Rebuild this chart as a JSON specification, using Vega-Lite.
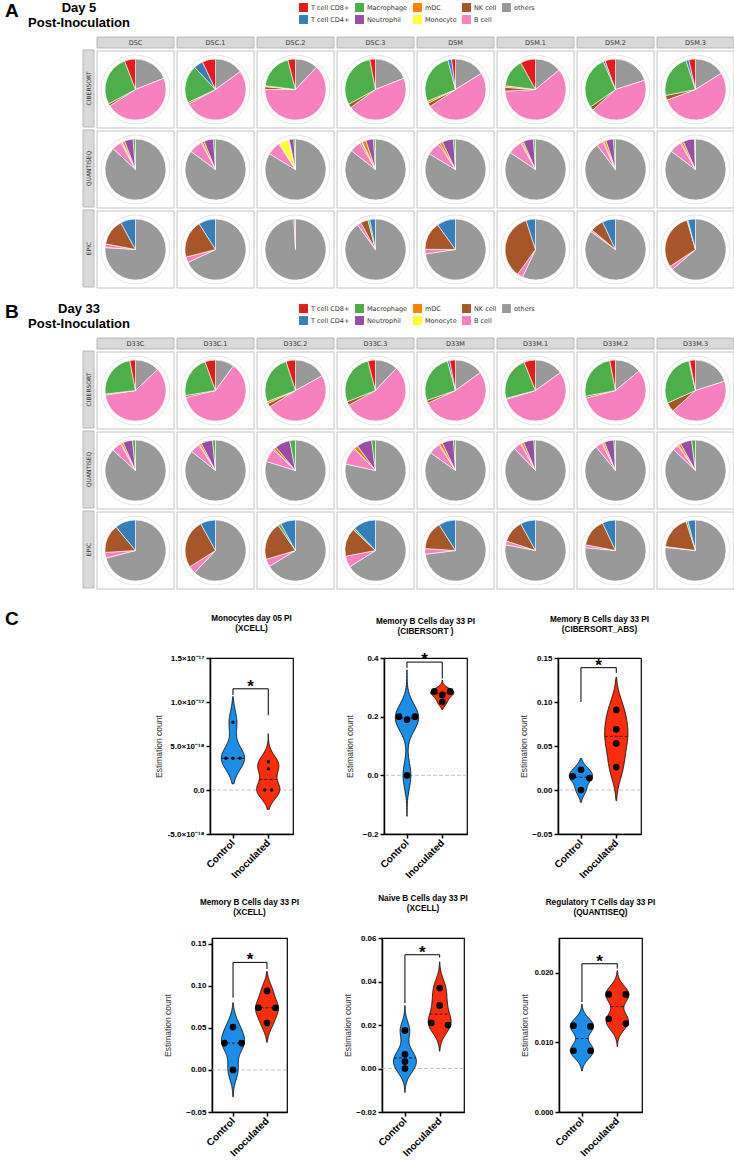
{
"$schema":"https://vega.github.io/schema/vega-lite/v6.json",
"padding":{"left":5,"top":1,"right":0,"bottom":0},
"background":"white",
"config":{"view":{"stroke":null},"font":"Liberation Sans",
"axis":{"domainColor":"black","domainWidth":1.5,"tickColor":"black","tickWidth":1.5,"tickSize":4,"labelColor":"black","labelFontWeight":"bold","labelFontSize":8,"labelFont":"Liberation Sans","titleFont":"Liberation Sans","titleFontWeight":"normal","titleFontSize":8.5,"titleColor":"#333333","grid":false,"titlePadding":6,"labelPadding":2,"labelOverlap":false,"labelSeparation":0,"labelBound":false},
"title":{"font":"Liberation Sans","fontSize":8.2,"fontWeight":"bold","color":"black","offset":21,"lineHeight":10,"anchor":"middle","frame":"group"}},
"datasets":{
"pA":[
{"m":"CIBERSORT","s":"D5C","c":"others","v":0.19},{"m":"CIBERSORT","s":"D5C","c":"B cell","v":0.47},{"m":"CIBERSORT","s":"D5C","c":"NK cell","v":0.012},{"m":"CIBERSORT","s":"D5C","c":"Macrophage","v":0.27},{"m":"CIBERSORT","s":"D5C","c":"T cell CD8+","v":0.058},
{"m":"CIBERSORT","s":"D5C.1","c":"others","v":0.15},{"m":"CIBERSORT","s":"D5C.1","c":"B cell","v":0.52},{"m":"CIBERSORT","s":"D5C.1","c":"NK cell","v":0.008},{"m":"CIBERSORT","s":"D5C.1","c":"Macrophage","v":0.2},{"m":"CIBERSORT","s":"D5C.1","c":"T cell CD4+","v":0.05},{"m":"CIBERSORT","s":"D5C.1","c":"T cell CD8+","v":0.07},
{"m":"CIBERSORT","s":"D5C.2","c":"others","v":0.12},{"m":"CIBERSORT","s":"D5C.2","c":"B cell","v":0.63},{"m":"CIBERSORT","s":"D5C.2","c":"NK cell","v":0.015},{"m":"CIBERSORT","s":"D5C.2","c":"mDC","v":0.005},{"m":"CIBERSORT","s":"D5C.2","c":"Macrophage","v":0.19},{"m":"CIBERSORT","s":"D5C.2","c":"T cell CD8+","v":0.04},
{"m":"CIBERSORT","s":"D5C.3","c":"others","v":0.19},{"m":"CIBERSORT","s":"D5C.3","c":"B cell","v":0.46},{"m":"CIBERSORT","s":"D5C.3","c":"NK cell","v":0.02},{"m":"CIBERSORT","s":"D5C.3","c":"Macrophage","v":0.3},{"m":"CIBERSORT","s":"D5C.3","c":"T cell CD8+","v":0.03},
{"m":"CIBERSORT","s":"D5M","c":"others","v":0.16},{"m":"CIBERSORT","s":"D5M","c":"B cell","v":0.49},{"m":"CIBERSORT","s":"D5M","c":"NK cell","v":0.02},{"m":"CIBERSORT","s":"D5M","c":"mDC","v":0.01},{"m":"CIBERSORT","s":"D5M","c":"Macrophage","v":0.27},{"m":"CIBERSORT","s":"D5M","c":"T cell CD4+","v":0.02},{"m":"CIBERSORT","s":"D5M","c":"T cell CD8+","v":0.02},
{"m":"CIBERSORT","s":"D5M.1","c":"others","v":0.14},{"m":"CIBERSORT","s":"D5M.1","c":"B cell","v":0.6},{"m":"CIBERSORT","s":"D5M.1","c":"NK cell","v":0.02},{"m":"CIBERSORT","s":"D5M.1","c":"mDC","v":0.008},{"m":"CIBERSORT","s":"D5M.1","c":"Macrophage","v":0.15},{"m":"CIBERSORT","s":"D5M.1","c":"T cell CD8+","v":0.08},
{"m":"CIBERSORT","s":"D5M.2","c":"others","v":0.2},{"m":"CIBERSORT","s":"D5M.2","c":"B cell","v":0.43},{"m":"CIBERSORT","s":"D5M.2","c":"NK cell","v":0.02},{"m":"CIBERSORT","s":"D5M.2","c":"Macrophage","v":0.28},{"m":"CIBERSORT","s":"D5M.2","c":"T cell CD4+","v":0.01},{"m":"CIBERSORT","s":"D5M.2","c":"T cell CD8+","v":0.055},
{"m":"CIBERSORT","s":"D5M.3","c":"others","v":0.16},{"m":"CIBERSORT","s":"D5M.3","c":"B cell","v":0.53},{"m":"CIBERSORT","s":"D5M.3","c":"NK cell","v":0.025},{"m":"CIBERSORT","s":"D5M.3","c":"Macrophage","v":0.23},{"m":"CIBERSORT","s":"D5M.3","c":"T cell CD4+","v":0.015},{"m":"CIBERSORT","s":"D5M.3","c":"T cell CD8+","v":0.035},
{"m":"QUANTISEQ","s":"D5C","c":"others","v":0.85},{"m":"QUANTISEQ","s":"D5C","c":"B cell","v":0.05},{"m":"QUANTISEQ","s":"D5C","c":"NK cell","v":0.005},{"m":"QUANTISEQ","s":"D5C","c":"Monocyte","v":0.004},{"m":"QUANTISEQ","s":"D5C","c":"mDC","v":0.012},{"m":"QUANTISEQ","s":"D5C","c":"Neutrophil","v":0.045},{"m":"QUANTISEQ","s":"D5C","c":"Macrophage","v":0.012},
{"m":"QUANTISEQ","s":"D5C.1","c":"others","v":0.84},{"m":"QUANTISEQ","s":"D5C.1","c":"B cell","v":0.07},{"m":"QUANTISEQ","s":"D5C.1","c":"NK cell","v":0.005},{"m":"QUANTISEQ","s":"D5C.1","c":"mDC","v":0.012},{"m":"QUANTISEQ","s":"D5C.1","c":"Neutrophil","v":0.05},{"m":"QUANTISEQ","s":"D5C.1","c":"Macrophage","v":0.01},
{"m":"QUANTISEQ","s":"D5C.2","c":"others","v":0.83},{"m":"QUANTISEQ","s":"D5C.2","c":"B cell","v":0.07},{"m":"QUANTISEQ","s":"D5C.2","c":"NK cell","v":0.005},{"m":"QUANTISEQ","s":"D5C.2","c":"Monocyte","v":0.05},{"m":"QUANTISEQ","s":"D5C.2","c":"mDC","v":0.004},{"m":"QUANTISEQ","s":"D5C.2","c":"Neutrophil","v":0.025},{"m":"QUANTISEQ","s":"D5C.2","c":"Macrophage","v":0.008},
{"m":"QUANTISEQ","s":"D5C.3","c":"others","v":0.84},{"m":"QUANTISEQ","s":"D5C.3","c":"B cell","v":0.06},{"m":"QUANTISEQ","s":"D5C.3","c":"NK cell","v":0.008},{"m":"QUANTISEQ","s":"D5C.3","c":"Monocyte","v":0.004},{"m":"QUANTISEQ","s":"D5C.3","c":"mDC","v":0.02},{"m":"QUANTISEQ","s":"D5C.3","c":"Neutrophil","v":0.04},{"m":"QUANTISEQ","s":"D5C.3","c":"Macrophage","v":0.01},
{"m":"QUANTISEQ","s":"D5M","c":"others","v":0.83},{"m":"QUANTISEQ","s":"D5M","c":"B cell","v":0.07},{"m":"QUANTISEQ","s":"D5M","c":"NK cell","v":0.008},{"m":"QUANTISEQ","s":"D5M","c":"mDC","v":0.015},{"m":"QUANTISEQ","s":"D5M","c":"Neutrophil","v":0.06},{"m":"QUANTISEQ","s":"D5M","c":"Macrophage","v":0.01},
{"m":"QUANTISEQ","s":"D5M.1","c":"others","v":0.84},{"m":"QUANTISEQ","s":"D5M.1","c":"B cell","v":0.075},{"m":"QUANTISEQ","s":"D5M.1","c":"NK cell","v":0.005},{"m":"QUANTISEQ","s":"D5M.1","c":"mDC","v":0.01},{"m":"QUANTISEQ","s":"D5M.1","c":"Neutrophil","v":0.055},{"m":"QUANTISEQ","s":"D5M.1","c":"Macrophage","v":0.01},
{"m":"QUANTISEQ","s":"D5M.2","c":"others","v":0.89},{"m":"QUANTISEQ","s":"D5M.2","c":"B cell","v":0.035},{"m":"QUANTISEQ","s":"D5M.2","c":"NK cell","v":0.005},{"m":"QUANTISEQ","s":"D5M.2","c":"mDC","v":0.012},{"m":"QUANTISEQ","s":"D5M.2","c":"Neutrophil","v":0.04},{"m":"QUANTISEQ","s":"D5M.2","c":"Macrophage","v":0.01},
{"m":"QUANTISEQ","s":"D5M.3","c":"others","v":0.85},{"m":"QUANTISEQ","s":"D5M.3","c":"B cell","v":0.065},{"m":"QUANTISEQ","s":"D5M.3","c":"NK cell","v":0.005},{"m":"QUANTISEQ","s":"D5M.3","c":"mDC","v":0.012},{"m":"QUANTISEQ","s":"D5M.3","c":"Neutrophil","v":0.06},{"m":"QUANTISEQ","s":"D5M.3","c":"Macrophage","v":0.005},
{"m":"EPIC","s":"D5C","c":"others","v":0.76},{"m":"EPIC","s":"D5C","c":"B cell","v":0.02},{"m":"EPIC","s":"D5C","c":"NK cell","v":0.14},{"m":"EPIC","s":"D5C","c":"T cell CD4+","v":0.08},
{"m":"EPIC","s":"D5C.1","c":"others","v":0.68},{"m":"EPIC","s":"D5C.1","c":"B cell","v":0.03},{"m":"EPIC","s":"D5C.1","c":"NK cell","v":0.2},{"m":"EPIC","s":"D5C.1","c":"T cell CD4+","v":0.09},
{"m":"EPIC","s":"D5C.2","c":"others","v":0.99},{"m":"EPIC","s":"D5C.2","c":"B cell","v":0.008},
{"m":"EPIC","s":"D5C.3","c":"others","v":0.9},{"m":"EPIC","s":"D5C.3","c":"B cell","v":0.02},{"m":"EPIC","s":"D5C.3","c":"NK cell","v":0.04},{"m":"EPIC","s":"D5C.3","c":"Macrophage","v":0.01},{"m":"EPIC","s":"D5C.3","c":"T cell CD4+","v":0.03},
{"m":"EPIC","s":"D5M","c":"others","v":0.73},{"m":"EPIC","s":"D5M","c":"B cell","v":0.025},{"m":"EPIC","s":"D5M","c":"NK cell","v":0.15},{"m":"EPIC","s":"D5M","c":"T cell CD4+","v":0.1},
{"m":"EPIC","s":"D5M.1","c":"others","v":0.57},{"m":"EPIC","s":"D5M.1","c":"B cell","v":0.03},{"m":"EPIC","s":"D5M.1","c":"NK cell","v":0.35},{"m":"EPIC","s":"D5M.1","c":"T cell CD4+","v":0.05},
{"m":"EPIC","s":"D5M.2","c":"others","v":0.85},{"m":"EPIC","s":"D5M.2","c":"B cell","v":0.01},{"m":"EPIC","s":"D5M.2","c":"NK cell","v":0.07},{"m":"EPIC","s":"D5M.2","c":"T cell CD4+","v":0.07},
{"m":"EPIC","s":"D5M.3","c":"others","v":0.64},{"m":"EPIC","s":"D5M.3","c":"B cell","v":0.02},{"m":"EPIC","s":"D5M.3","c":"NK cell","v":0.3},{"m":"EPIC","s":"D5M.3","c":"Macrophage","v":0.005},{"m":"EPIC","s":"D5M.3","c":"T cell CD4+","v":0.04}
],
"pB":[
{"m":"CIBERSORT","s":"D33C","c":"others","v":0.13},{"m":"CIBERSORT","s":"D33C","c":"B cell","v":0.6},{"m":"CIBERSORT","s":"D33C","c":"NK cell","v":0.005},{"m":"CIBERSORT","s":"D33C","c":"Macrophage","v":0.24},{"m":"CIBERSORT","s":"D33C","c":"T cell CD8+","v":0.03},
{"m":"CIBERSORT","s":"D33C.1","c":"others","v":0.1},{"m":"CIBERSORT","s":"D33C.1","c":"B cell","v":0.61},{"m":"CIBERSORT","s":"D33C.1","c":"NK cell","v":0.01},{"m":"CIBERSORT","s":"D33C.1","c":"Macrophage","v":0.22},{"m":"CIBERSORT","s":"D33C.1","c":"T cell CD8+","v":0.055},
{"m":"CIBERSORT","s":"D33C.2","c":"others","v":0.17},{"m":"CIBERSORT","s":"D33C.2","c":"B cell","v":0.49},{"m":"CIBERSORT","s":"D33C.2","c":"NK cell","v":0.02},{"m":"CIBERSORT","s":"D33C.2","c":"mDC","v":0.01},{"m":"CIBERSORT","s":"D33C.2","c":"Macrophage","v":0.26},{"m":"CIBERSORT","s":"D33C.2","c":"T cell CD8+","v":0.05},
{"m":"CIBERSORT","s":"D33C.3","c":"others","v":0.12},{"m":"CIBERSORT","s":"D33C.3","c":"B cell","v":0.55},{"m":"CIBERSORT","s":"D33C.3","c":"NK cell","v":0.02},{"m":"CIBERSORT","s":"D33C.3","c":"Macrophage","v":0.27},{"m":"CIBERSORT","s":"D33C.3","c":"T cell CD8+","v":0.04},
{"m":"CIBERSORT","s":"D33M","c":"others","v":0.15},{"m":"CIBERSORT","s":"D33M","c":"B cell","v":0.53},{"m":"CIBERSORT","s":"D33M","c":"NK cell","v":0.015},{"m":"CIBERSORT","s":"D33M","c":"Macrophage","v":0.26},{"m":"CIBERSORT","s":"D33M","c":"T cell CD4+","v":0.012},{"m":"CIBERSORT","s":"D33M","c":"T cell CD8+","v":0.03},
{"m":"CIBERSORT","s":"D33M.1","c":"others","v":0.15},{"m":"CIBERSORT","s":"D33M.1","c":"B cell","v":0.55},{"m":"CIBERSORT","s":"D33M.1","c":"NK cell","v":0.005},{"m":"CIBERSORT","s":"D33M.1","c":"Macrophage","v":0.23},{"m":"CIBERSORT","s":"D33M.1","c":"T cell CD8+","v":0.06},
{"m":"CIBERSORT","s":"D33M.2","c":"others","v":0.14},{"m":"CIBERSORT","s":"D33M.2","c":"B cell","v":0.57},{"m":"CIBERSORT","s":"D33M.2","c":"NK cell","v":0.01},{"m":"CIBERSORT","s":"D33M.2","c":"Macrophage","v":0.25},{"m":"CIBERSORT","s":"D33M.2","c":"T cell CD8+","v":0.03},
{"m":"CIBERSORT","s":"D33M.3","c":"others","v":0.2},{"m":"CIBERSORT","s":"D33M.3","c":"B cell","v":0.43},{"m":"CIBERSORT","s":"D33M.3","c":"NK cell","v":0.05},{"m":"CIBERSORT","s":"D33M.3","c":"Macrophage","v":0.28},{"m":"CIBERSORT","s":"D33M.3","c":"T cell CD4+","v":0.005},{"m":"CIBERSORT","s":"D33M.3","c":"T cell CD8+","v":0.03},
{"m":"QUANTISEQ","s":"D33C","c":"others","v":0.85},{"m":"QUANTISEQ","s":"D33C","c":"B cell","v":0.05},{"m":"QUANTISEQ","s":"D33C","c":"NK cell","v":0.005},{"m":"QUANTISEQ","s":"D33C","c":"mDC","v":0.01},{"m":"QUANTISEQ","s":"D33C","c":"Neutrophil","v":0.05},{"m":"QUANTISEQ","s":"D33C","c":"Macrophage","v":0.015},
{"m":"QUANTISEQ","s":"D33C.1","c":"others","v":0.84},{"m":"QUANTISEQ","s":"D33C.1","c":"B cell","v":0.05},{"m":"QUANTISEQ","s":"D33C.1","c":"NK cell","v":0.005},{"m":"QUANTISEQ","s":"D33C.1","c":"mDC","v":0.01},{"m":"QUANTISEQ","s":"D33C.1","c":"Neutrophil","v":0.06},{"m":"QUANTISEQ","s":"D33C.1","c":"Macrophage","v":0.015},
{"m":"QUANTISEQ","s":"D33C.2","c":"others","v":0.79},{"m":"QUANTISEQ","s":"D33C.2","c":"B cell","v":0.07},{"m":"QUANTISEQ","s":"D33C.2","c":"NK cell","v":0.005},{"m":"QUANTISEQ","s":"D33C.2","c":"mDC","v":0.015},{"m":"QUANTISEQ","s":"D33C.2","c":"Neutrophil","v":0.08},{"m":"QUANTISEQ","s":"D33C.2","c":"Macrophage","v":0.03},
{"m":"QUANTISEQ","s":"D33C.3","c":"others","v":0.78},{"m":"QUANTISEQ","s":"D33C.3","c":"B cell","v":0.09},{"m":"QUANTISEQ","s":"D33C.3","c":"NK cell","v":0.005},{"m":"QUANTISEQ","s":"D33C.3","c":"mDC","v":0.02},{"m":"QUANTISEQ","s":"D33C.3","c":"Neutrophil","v":0.08},{"m":"QUANTISEQ","s":"D33C.3","c":"Macrophage","v":0.02},
{"m":"QUANTISEQ","s":"D33M","c":"others","v":0.84},{"m":"QUANTISEQ","s":"D33M","c":"B cell","v":0.06},{"m":"QUANTISEQ","s":"D33M","c":"NK cell","v":0.005},{"m":"QUANTISEQ","s":"D33M","c":"mDC","v":0.015},{"m":"QUANTISEQ","s":"D33M","c":"Neutrophil","v":0.06},{"m":"QUANTISEQ","s":"D33M","c":"Macrophage","v":0.01},
{"m":"QUANTISEQ","s":"D33M.1","c":"others","v":0.87},{"m":"QUANTISEQ","s":"D33M.1","c":"B cell","v":0.04},{"m":"QUANTISEQ","s":"D33M.1","c":"NK cell","v":0.005},{"m":"QUANTISEQ","s":"D33M.1","c":"mDC","v":0.012},{"m":"QUANTISEQ","s":"D33M.1","c":"Neutrophil","v":0.055},{"m":"QUANTISEQ","s":"D33M.1","c":"Macrophage","v":0.008},
{"m":"QUANTISEQ","s":"D33M.2","c":"others","v":0.88},{"m":"QUANTISEQ","s":"D33M.2","c":"B cell","v":0.035},{"m":"QUANTISEQ","s":"D33M.2","c":"NK cell","v":0.005},{"m":"QUANTISEQ","s":"D33M.2","c":"mDC","v":0.01},{"m":"QUANTISEQ","s":"D33M.2","c":"Neutrophil","v":0.05},{"m":"QUANTISEQ","s":"D33M.2","c":"Macrophage","v":0.008},
{"m":"QUANTISEQ","s":"D33M.3","c":"others","v":0.86},{"m":"QUANTISEQ","s":"D33M.3","c":"B cell","v":0.03},{"m":"QUANTISEQ","s":"D33M.3","c":"NK cell","v":0.005},{"m":"QUANTISEQ","s":"D33M.3","c":"mDC","v":0.012},{"m":"QUANTISEQ","s":"D33M.3","c":"Neutrophil","v":0.06},{"m":"QUANTISEQ","s":"D33M.3","c":"Macrophage","v":0.02},
{"m":"EPIC","s":"D33C","c":"others","v":0.71},{"m":"EPIC","s":"D33C","c":"B cell","v":0.03},{"m":"EPIC","s":"D33C","c":"NK cell","v":0.15},{"m":"EPIC","s":"D33C","c":"T cell CD4+","v":0.11},
{"m":"EPIC","s":"D33C.1","c":"others","v":0.62},{"m":"EPIC","s":"D33C.1","c":"B cell","v":0.04},{"m":"EPIC","s":"D33C.1","c":"NK cell","v":0.26},{"m":"EPIC","s":"D33C.1","c":"T cell CD4+","v":0.08},
{"m":"EPIC","s":"D33C.2","c":"others","v":0.66},{"m":"EPIC","s":"D33C.2","c":"B cell","v":0.04},{"m":"EPIC","s":"D33C.2","c":"NK cell","v":0.2},{"m":"EPIC","s":"D33C.2","c":"Macrophage","v":0.015},{"m":"EPIC","s":"D33C.2","c":"T cell CD4+","v":0.08},
{"m":"EPIC","s":"D33C.3","c":"others","v":0.66},{"m":"EPIC","s":"D33C.3","c":"B cell","v":0.06},{"m":"EPIC","s":"D33C.3","c":"NK cell","v":0.15},{"m":"EPIC","s":"D33C.3","c":"Macrophage","v":0.01},{"m":"EPIC","s":"D33C.3","c":"T cell CD4+","v":0.12},
{"m":"EPIC","s":"D33M","c":"others","v":0.73},{"m":"EPIC","s":"D33M","c":"B cell","v":0.03},{"m":"EPIC","s":"D33M","c":"NK cell","v":0.15},{"m":"EPIC","s":"D33M","c":"T cell CD4+","v":0.09},
{"m":"EPIC","s":"D33M.1","c":"others","v":0.78},{"m":"EPIC","s":"D33M.1","c":"B cell","v":0.02},{"m":"EPIC","s":"D33M.1","c":"NK cell","v":0.12},{"m":"EPIC","s":"D33M.1","c":"T cell CD4+","v":0.08},
{"m":"EPIC","s":"D33M.2","c":"others","v":0.765},{"m":"EPIC","s":"D33M.2","c":"B cell","v":0.015},{"m":"EPIC","s":"D33M.2","c":"NK cell","v":0.15},{"m":"EPIC","s":"D33M.2","c":"T cell CD4+","v":0.07},
{"m":"EPIC","s":"D33M.3","c":"others","v":0.77},{"m":"EPIC","s":"D33M.3","c":"B cell","v":0.005},{"m":"EPIC","s":"D33M.3","c":"NK cell","v":0.18},{"m":"EPIC","s":"D33M.3","c":"Macrophage","v":0.01},{"m":"EPIC","s":"D33M.3","c":"T cell CD4+","v":0.04}
],
"v1":[{"g":"Control","v":7.7e-18},{"g":"Control","v":3.6e-18},{"g":"Control","v":3.6e-18},{"g":"Control","v":3.6e-18},{"g":"Inoculated","v":3.2e-18},{"g":"Inoculated","v":2.4e-18},{"g":"Inoculated","v":0},{"g":"Inoculated","v":0}],
"v2":[{"g":"Control","v":0.2},{"g":"Control","v":0.2},{"g":"Control","v":0.19},{"g":"Control","v":0.0},{"g":"Inoculated","v":0.286},{"g":"Inoculated","v":0.286},{"g":"Inoculated","v":0.274},{"g":"Inoculated","v":0.25}],
"v3":[{"g":"Control","v":0.023},{"g":"Control","v":0.0155},{"g":"Control","v":0.0135},{"g":"Control","v":0.0},{"g":"Inoculated","v":0.091},{"g":"Inoculated","v":0.069},{"g":"Inoculated","v":0.053},{"g":"Inoculated","v":0.026}],
"v4":[{"g":"Control","v":0.051},{"g":"Control","v":0.032},{"g":"Control","v":0.032},{"g":"Control","v":0.0},{"g":"Inoculated","v":0.094},{"g":"Inoculated","v":0.074},{"g":"Inoculated","v":0.074},{"g":"Inoculated","v":0.056}],
"v5":[{"g":"Control","v":0.0175},{"g":"Control","v":0.0065},{"g":"Control","v":0.0032},{"g":"Control","v":0.0},{"g":"Inoculated","v":0.037},{"g":"Inoculated","v":0.029},{"g":"Inoculated","v":0.021},{"g":"Inoculated","v":0.02}],
"v6":[{"g":"Control","v":0.0124},{"g":"Control","v":0.0123},{"g":"Control","v":0.0088},{"g":"Control","v":0.0088},{"g":"Inoculated","v":0.0169},{"g":"Inoculated","v":0.0169},{"g":"Inoculated","v":0.0134},{"g":"Inoculated","v":0.0127}]
},
"resolve":{"scale":{"color":"independent","theta":"independent"},"legend":{"color":"independent"}},
"spacing":20,
"vconcat":[
{"resolve":{"scale":{"color":"independent","theta":"independent"},"legend":{"color":"independent"}},"spacing":13,
"vconcat":[
{"resolve":{"scale":{"color":"independent","theta":"independent"},"legend":{"color":"independent"}},"spacing":6,
"vconcat":[
{"resolve":{"scale":{"color":"independent"},"legend":{"color":"independent"}},"spacing":8,"bounds":"flush","hconcat":[
{"width":14,"height":1,"data":{"values":[]},"mark":"rect","title":{"text":"A","orient":"bottom","fontSize":19,"anchor":"start","offset":0,"lineHeight":19}},
{"width":104,"height":1,"data":{"values":[]},"mark":"rect","title":{"text":["Day 5","Post-Inoculation"],"orient":"bottom","fontSize":13,"lineHeight":14.5,"offset":0}},
{"width":155,"height":1,"data":{"values":[]},"mark":"rect","encoding":{"color":{"field":"c","type":"nominal","scale":{"domain":["T cell CD8+","Macrophage","mDC","NK cell","others","T cell CD4+","Neutrophil","Monocyte","B cell"],"range":["#E41A1C","#4DAF4A","#FF7F00","#A65628","#999999","#377EB8","#984EA3","#FFFF33","#F781BF"]},"legend":{"orient":"right","offset":3,"title":null,"direction":"horizontal","columns":5,"symbolType":"square","symbolSize":80,"symbolStrokeWidth":0,"symbolOpacity":1,"labelFontSize":6.5,"labelFont":"DejaVu Sans","labelFontWeight":"normal","labelColor":"#333333","columnPadding":5,"rowPadding":3,"labelOffset":3,"padding":2}}}}
]},
{"resolve":{"scale":{"color":"independent","theta":"independent"},"legend":{"color":"independent"}},"spacing":1,"hconcat":[
{"width":76,"height":1,"data":{"values":[]},"mark":"rect"},
{"spacing":1,"vconcat":[
{"width":11,"height":11,"data":{"values":[]},"mark":"rect"},
{"width":11,"height":237,"data":{"name":"pA"},"transform":[{"aggregate":[{"op":"count","as":"n"}],"groupby":["m"]}],
"layer":[
{"mark":{"type":"rect","fill":"#d9d9d9","stroke":"#ababab","strokeWidth":0.8},"encoding":{"y":{"field":"m","type":"nominal","scale":{"domain":["CIBERSORT","QUANTISEQ","EPIC"],"paddingInner":0.0375,"paddingOuter":0},"axis":null}}},
{"mark":{"type":"text","fontSize":6,"font":"DejaVu Sans","color":"#333333","angle":270},"encoding":{"y":{"field":"m","type":"nominal"},"text":{"field":"m"}}}
]}
]},
{"resolve":{"scale":{"color":"independent","theta":"independent"},"legend":{"color":"independent"}},"spacing":1,"vconcat":[
{"width":637,"height":11,"data":{"name":"pA"},"transform":[{"aggregate":[{"op":"count","as":"n"}],"groupby":["s"]}],
"layer":[
{"mark":{"type":"rect","fill":"#d9d9d9","stroke":"#ababab","strokeWidth":0.8},"encoding":{"x":{"field":"s","type":"nominal","scale":{"paddingInner":0.0375,"paddingOuter":0},"axis":null}}},
{"mark":{"type":"text","fontSize":6.5,"font":"DejaVu Sans","color":"#333333"},"encoding":{"x":{"field":"s","type":"nominal"},"text":{"field":"s"}}}
]},
{"width":637,"height":237,"data":{"name":"pA"},
"layer":[
{"transform":[{"aggregate":[{"op":"count","as":"n"}],"groupby":["m","s"]}],"mark":{"type":"rect","fill":"white","stroke":"#c4c4c4","strokeWidth":1},"encoding":{"x":{"field":"s","type":"nominal","scale":{"paddingInner":0.0375,"paddingOuter":0},"axis":null},"y":{"field":"m","type":"nominal","scale":{"domain":["CIBERSORT","QUANTISEQ","EPIC"],"paddingInner":0.0375,"paddingOuter":0},"axis":null}}},
{"transform":[{"aggregate":[{"op":"count","as":"n"}],"groupby":["m","s"]}],"mark":{"type":"point","shape":"circle","size":4761,"filled":true,"fill":"white","stroke":"#e6e6e6","strokeWidth":1,"opacity":1},"encoding":{"x":{"field":"s","type":"nominal"},"y":{"field":"m","type":"nominal"}}},
{"transform":[{"calculate":"indexof(['others','B cell','NK cell','Monocyte','mDC','Neutrophil','Macrophage','T cell CD4+','T cell CD8+'], datum.c)","as":"o"},{"stack":"v","groupby":["m","s"],"sort":[{"field":"o","order":"ascending"}],"offset":"normalize","as":["t0","t1"]}],
"mark":{"type":"arc","radius":30.5,"stroke":"white","strokeWidth":0.6},
"encoding":{"x":{"field":"s","type":"nominal","bandPosition":0.5},"y":{"field":"m","type":"nominal","bandPosition":0.5},
"theta":{"field":"t0","type":"quantitative","stack":null,"scale":{"type":"linear","domain":[0,1],"range":[0,6.283185307179586]}},"theta2":{"field":"t1"},
"color":{"field":"c","type":"nominal","scale":{"domain":["T cell CD8+","Macrophage","mDC","NK cell","others","T cell CD4+","Neutrophil","Monocyte","B cell"],"range":["#E41A1C","#4DAF4A","#FF7F00","#A65628","#999999","#377EB8","#984EA3","#FFFF33","#F781BF"]},"legend":null}}}
]}
]}
]}
]},
{"resolve":{"scale":{"color":"independent","theta":"independent"},"legend":{"color":"independent"}},"spacing":6,
"vconcat":[
{"resolve":{"scale":{"color":"independent"},"legend":{"color":"independent"}},"spacing":8,"bounds":"flush","hconcat":[
{"width":14,"height":1,"data":{"values":[]},"mark":"rect","title":{"text":"B","orient":"bottom","fontSize":19,"anchor":"start","offset":0,"lineHeight":19}},
{"width":104,"height":1,"data":{"values":[]},"mark":"rect","title":{"text":["Day 33","Post-Inoculation"],"orient":"bottom","fontSize":13,"lineHeight":14.5,"offset":0}},
{"width":155,"height":1,"data":{"values":[]},"mark":"rect","encoding":{"color":{"field":"c","type":"nominal","scale":{"domain":["T cell CD8+","Macrophage","mDC","NK cell","others","T cell CD4+","Neutrophil","Monocyte","B cell"],"range":["#E41A1C","#4DAF4A","#FF7F00","#A65628","#999999","#377EB8","#984EA3","#FFFF33","#F781BF"]},"legend":{"orient":"right","offset":3,"title":null,"direction":"horizontal","columns":5,"symbolType":"square","symbolSize":80,"symbolStrokeWidth":0,"symbolOpacity":1,"labelFontSize":6.5,"labelFont":"DejaVu Sans","labelFontWeight":"normal","labelColor":"#333333","columnPadding":5,"rowPadding":3,"labelOffset":3,"padding":2}}}}
]},
{"resolve":{"scale":{"color":"independent","theta":"independent"},"legend":{"color":"independent"}},"spacing":1,"hconcat":[
{"width":76,"height":1,"data":{"values":[]},"mark":"rect"},
{"spacing":1,"vconcat":[
{"width":11,"height":11,"data":{"values":[]},"mark":"rect"},
{"width":11,"height":237,"data":{"name":"pB"},"transform":[{"aggregate":[{"op":"count","as":"n"}],"groupby":["m"]}],
"layer":[
{"mark":{"type":"rect","fill":"#d9d9d9","stroke":"#ababab","strokeWidth":0.8},"encoding":{"y":{"field":"m","type":"nominal","scale":{"domain":["CIBERSORT","QUANTISEQ","EPIC"],"paddingInner":0.0375,"paddingOuter":0},"axis":null}}},
{"mark":{"type":"text","fontSize":6,"font":"DejaVu Sans","color":"#333333","angle":270},"encoding":{"y":{"field":"m","type":"nominal"},"text":{"field":"m"}}}
]}
]},
{"resolve":{"scale":{"color":"independent","theta":"independent"},"legend":{"color":"independent"}},"spacing":1,"vconcat":[
{"width":637,"height":11,"data":{"name":"pB"},"transform":[{"aggregate":[{"op":"count","as":"n"}],"groupby":["s"]}],
"layer":[
{"mark":{"type":"rect","fill":"#d9d9d9","stroke":"#ababab","strokeWidth":0.8},"encoding":{"x":{"field":"s","type":"nominal","scale":{"paddingInner":0.0375,"paddingOuter":0},"axis":null}}},
{"mark":{"type":"text","fontSize":6.5,"font":"DejaVu Sans","color":"#333333"},"encoding":{"x":{"field":"s","type":"nominal"},"text":{"field":"s"}}}
]},
{"width":637,"height":237,"data":{"name":"pB"},
"layer":[
{"transform":[{"aggregate":[{"op":"count","as":"n"}],"groupby":["m","s"]}],"mark":{"type":"rect","fill":"white","stroke":"#c4c4c4","strokeWidth":1},"encoding":{"x":{"field":"s","type":"nominal","scale":{"paddingInner":0.0375,"paddingOuter":0},"axis":null},"y":{"field":"m","type":"nominal","scale":{"domain":["CIBERSORT","QUANTISEQ","EPIC"],"paddingInner":0.0375,"paddingOuter":0},"axis":null}}},
{"transform":[{"aggregate":[{"op":"count","as":"n"}],"groupby":["m","s"]}],"mark":{"type":"point","shape":"circle","size":4761,"filled":true,"fill":"white","stroke":"#e6e6e6","strokeWidth":1,"opacity":1},"encoding":{"x":{"field":"s","type":"nominal"},"y":{"field":"m","type":"nominal"}}},
{"transform":[{"calculate":"indexof(['others','B cell','NK cell','Monocyte','mDC','Neutrophil','Macrophage','T cell CD4+','T cell CD8+'], datum.c)","as":"o"},{"stack":"v","groupby":["m","s"],"sort":[{"field":"o","order":"ascending"}],"offset":"normalize","as":["t0","t1"]}],
"mark":{"type":"arc","radius":30.5,"stroke":"white","strokeWidth":0.6},
"encoding":{"x":{"field":"s","type":"nominal","bandPosition":0.5},"y":{"field":"m","type":"nominal","bandPosition":0.5},
"theta":{"field":"t0","type":"quantitative","stack":null,"scale":{"type":"linear","domain":[0,1],"range":[0,6.283185307179586]}},"theta2":{"field":"t1"},
"color":{"field":"c","type":"nominal","scale":{"domain":["T cell CD8+","Macrophage","mDC","NK cell","others","T cell CD4+","Neutrophil","Monocyte","B cell"],"range":["#E41A1C","#4DAF4A","#FF7F00","#A65628","#999999","#377EB8","#984EA3","#FFFF33","#F781BF"]},"legend":null}}}
]}
]}
]}
]}
]},
{"spacing":12,"vconcat":[
{"spacing":91,"bounds":"flush","hconcat":[
{"width":114,"height":1,"data":{"values":[]},"mark":"rect","title":{"text":"C","fontSize":19,"anchor":"start","offset":29,"lineHeight":19}},
{"width":83,"height":176,"view":{"stroke":"black","strokeWidth":1.2},"title":{"text":["Monocytes day 05 PI","(XCELL)"]},"data":{"name":"v1"},
"layer":[
{"data":{"values":[{}]},"mark":{"type":"rule","color":"#b5b5b5","strokeDash":[4,2],"strokeWidth":0.8},"encoding":{"y":{"datum":0,"type":"quantitative","scale":{"domain":[-5e-18,1.5e-17],"nice":false,"zero":false},"axis":{"values":[-5e-18,0,5e-18,1e-17,1.5e-17],"labelExpr":"datum.value == 0 ? '0.0' : (datum.value > 1.2e-17 ? '1.5×10⁻¹⁷' : (datum.value > 7e-18 ? '1.0×10⁻¹⁷' : (datum.value > 0 ? '5.0×10⁻¹⁸' : '-5.0×10⁻¹⁸')))","title":"Estimation count","minExtent":44,"maxExtent":44,"titlePadding":3,"labelOverlap":false}}}},
{"transform":[{"filter":"datum.g == 'Control'"},{"joinaggregate":[{"op":"median","field":"v","as":"med"}]},{"density":"v","groupby":["med"],"bandwidth":1.3e-18,"extent":[7e-19,1.06e-17],"steps":100,"as":["v","d"]},{"joinaggregate":[{"op":"max","field":"d","as":"md"}]},{"calculate":"0 - 0.33 * datum.d / datum.md","as":"xl"},{"calculate":"0 + 0.33 * datum.d / datum.md","as":"xr"}],
"layer":[
{"mark":{"type":"area","orient":"horizontal","fill":"#1B8FE8","stroke":"black","strokeWidth":0.8,"opacity":1},
"encoding":{"y":{"field":"v","type":"quantitative","title":"Estimation count"},"x":{"field":"xl","type":"quantitative","title":null,"scale":{"domain":[-0.65,1.7],"nice":false,"zero":false},"axis":{"values":[0,1],"labelExpr":"datum.value == 0 ? 'Control' : 'Inoculated'","labelAngle":-45,"labelAlign":"right","labelBaseline":"middle","labelFontSize":10,"labelPadding":3,"labelOverlap":false,"title":null}},"x2":{"field":"xr"}}},
{"transform":[{"calculate":"abs(datum.v - datum.med)","as":"dist"},{"joinaggregate":[{"op":"min","field":"dist","as":"mind"}]},{"filter":"datum.dist == datum.mind"}],"mark":{"type":"rule","color":"#1a1a1a","strokeDash":[3,2],"strokeWidth":0.9},"encoding":{"x":{"field":"xl","type":"quantitative","title":null},"x2":{"field":"xr"},"y":{"field":"med","type":"quantitative","title":"Estimation count"}}}
]},
{"transform":[{"filter":"datum.g == 'Inoculated'"},{"joinaggregate":[{"op":"median","field":"v","as":"med"}]},{"density":"v","groupby":["med"],"bandwidth":1.0e-18,"extent":[-2.2e-18,6.4e-18],"steps":100,"as":["v","d"]},{"joinaggregate":[{"op":"max","field":"d","as":"md"}]},{"calculate":"1 - 0.33 * datum.d / datum.md","as":"xl"},{"calculate":"1 + 0.33 * datum.d / datum.md","as":"xr"}],
"layer":[
{"mark":{"type":"area","orient":"horizontal","fill":"#FA2D0A","stroke":"black","strokeWidth":0.8,"opacity":1},
"encoding":{"y":{"field":"v","type":"quantitative","title":"Estimation count"},"x":{"field":"xl","type":"quantitative","title":null},"x2":{"field":"xr"}}},
{"transform":[{"calculate":"abs(datum.v - datum.med)","as":"dist"},{"joinaggregate":[{"op":"min","field":"dist","as":"mind"}]},{"filter":"datum.dist == datum.mind"}],"mark":{"type":"rule","color":"#1a1a1a","strokeDash":[3,2],"strokeWidth":0.9},"encoding":{"x":{"field":"xl","type":"quantitative","title":null},"x2":{"field":"xr"},"y":{"field":"med","type":"quantitative","title":"Estimation count"}}}
]},
{"transform":[{"calculate":"round(datum.v / 1e-18)","as":"b"},{"window":[{"op":"row_number","as":"rn"},{"op":"count","as":"cnt"}],"groupby":["g","b"],"frame":[null,null]},{"calculate":"(datum.g == 'Control' ? 0 : 1) + (datum.rn - (datum.cnt + 1) / 2) * 0.2","as":"px"}],
"mark":{"type":"circle","color":"black","opacity":1,"size":12},
"encoding":{"x":{"field":"px","type":"quantitative","title":null},"y":{"field":"v","type":"quantitative","title":"Estimation count"}}},
{"data":{"values":[{}]},"mark":{"type":"rule","color":"black","strokeWidth":1},"encoding":{"x":{"datum":0},"x2":{"datum":1},"y":{"datum":1.15e-17}}},
{"data":{"values":[{}]},"mark":{"type":"rule","color":"black","strokeWidth":1},"encoding":{"x":{"datum":0},"y":{"datum":1.08e-17},"y2":{"datum":1.15e-17}}},
{"data":{"values":[{}]},"mark":{"type":"rule","color":"black","strokeWidth":1},"encoding":{"x":{"datum":1},"y":{"datum":8.5e-18},"y2":{"datum":1.15e-17}}},
{"data":{"values":[{}]},"mark":{"type":"text","text":"*","fontSize":17,"fontWeight":"bold","baseline":"alphabetic","dy":3},"encoding":{"x":{"datum":0.5},"y":{"datum":1.15e-17}}}
]},
{"width":83,"height":176,"view":{"stroke":"black","strokeWidth":1.2},"title":{"text":["Memory B Cells day 33 PI","(CIBERSORT )"],"offset":15},"data":{"name":"v2"},
"layer":[
{"data":{"values":[{}]},"mark":{"type":"rule","color":"#b5b5b5","strokeDash":[4,2],"strokeWidth":0.8},"encoding":{"y":{"datum":0,"type":"quantitative","scale":{"domain":[-0.2,0.4],"nice":false,"zero":false},"axis":{"values":[-0.2,0,0.2,0.4],"format":".1f","title":"Estimation count","minExtent":24,"maxExtent":24,"titlePadding":6,"labelOverlap":false}}}},
{"transform":[{"filter":"datum.g == 'Control'"},{"joinaggregate":[{"op":"median","field":"v","as":"med"}]},{"density":"v","groupby":["med"],"bandwidth":0.045,"extent":[-0.14,0.36],"steps":100,"as":["v","d"]},{"joinaggregate":[{"op":"max","field":"d","as":"md"}]},{"calculate":"0 - 0.33 * datum.d / datum.md","as":"xl"},{"calculate":"0 + 0.33 * datum.d / datum.md","as":"xr"}],
"layer":[
{"mark":{"type":"area","orient":"horizontal","fill":"#1B8FE8","stroke":"black","strokeWidth":0.8,"opacity":1},
"encoding":{"y":{"field":"v","type":"quantitative","title":"Estimation count"},"x":{"field":"xl","type":"quantitative","title":null,"scale":{"domain":[-0.65,1.7],"nice":false,"zero":false},"axis":{"values":[0,1],"labelExpr":"datum.value == 0 ? 'Control' : 'Inoculated'","labelAngle":-45,"labelAlign":"right","labelBaseline":"middle","labelFontSize":10,"labelPadding":3,"labelOverlap":false,"title":null}},"x2":{"field":"xr"}}},
{"transform":[{"calculate":"abs(datum.v - datum.med)","as":"dist"},{"joinaggregate":[{"op":"min","field":"dist","as":"mind"}]},{"filter":"datum.dist == datum.mind"}],"mark":{"type":"rule","color":"#1a1a1a","strokeDash":[3,2],"strokeWidth":0.9},"encoding":{"x":{"field":"xl","type":"quantitative","title":null},"x2":{"field":"xr"},"y":{"field":"med","type":"quantitative","title":"Estimation count"}}}
]},
{"transform":[{"filter":"datum.g == 'Inoculated'"},{"joinaggregate":[{"op":"median","field":"v","as":"med"}]},{"density":"v","groupby":["med"],"bandwidth":0.013,"extent":[0.225,0.325],"steps":100,"as":["v","d"]},{"joinaggregate":[{"op":"max","field":"d","as":"md"}]},{"calculate":"1 - 0.33 * datum.d / datum.md","as":"xl"},{"calculate":"1 + 0.33 * datum.d / datum.md","as":"xr"}],
"layer":[
{"mark":{"type":"area","orient":"horizontal","fill":"#FA2D0A","stroke":"black","strokeWidth":0.8,"opacity":1},
"encoding":{"y":{"field":"v","type":"quantitative","title":"Estimation count"},"x":{"field":"xl","type":"quantitative","title":null},"x2":{"field":"xr"}}},
{"transform":[{"calculate":"abs(datum.v - datum.med)","as":"dist"},{"joinaggregate":[{"op":"min","field":"dist","as":"mind"}]},{"filter":"datum.dist == datum.mind"}],"mark":{"type":"rule","color":"#1a1a1a","strokeDash":[3,2],"strokeWidth":0.9},"encoding":{"x":{"field":"xl","type":"quantitative","title":null},"x2":{"field":"xr"},"y":{"field":"med","type":"quantitative","title":"Estimation count"}}}
]},
{"transform":[{"calculate":"round(datum.v / 0.01)","as":"b"},{"window":[{"op":"row_number","as":"rn"},{"op":"count","as":"cnt"}],"groupby":["g","b"],"frame":[null,null]},{"calculate":"(datum.g == 'Control' ? 0 : 1) + (datum.rn - (datum.cnt + 1) / 2) * 0.45","as":"px"}],
"mark":{"type":"circle","color":"black","opacity":1,"size":45},
"encoding":{"x":{"field":"px","type":"quantitative","title":null},"y":{"field":"v","type":"quantitative","title":"Estimation count"}}},
{"data":{"values":[{}]},"mark":{"type":"rule","color":"black","strokeWidth":1},"encoding":{"x":{"datum":0},"x2":{"datum":1},"y":{"datum":0.386}}},
{"data":{"values":[{}]},"mark":{"type":"rule","color":"black","strokeWidth":1},"encoding":{"x":{"datum":0},"y":{"datum":0.366},"y2":{"datum":0.386}}},
{"data":{"values":[{}]},"mark":{"type":"rule","color":"black","strokeWidth":1},"encoding":{"x":{"datum":1},"y":{"datum":0.33},"y2":{"datum":0.386}}},
{"data":{"values":[{}]},"mark":{"type":"text","text":"*","fontSize":17,"fontWeight":"bold","baseline":"alphabetic","dy":3},"encoding":{"x":{"datum":0.5},"y":{"datum":0.386}}}
]},
{"width":83,"height":176,"view":{"stroke":"black","strokeWidth":1.2},"title":{"text":["Memory B Cells day 33 PI","(CIBERSORT_ABS)"],"offset":20},"data":{"name":"v3"},
"layer":[
{"data":{"values":[{}]},"mark":{"type":"rule","color":"#b5b5b5","strokeDash":[4,2],"strokeWidth":0.8},"encoding":{"y":{"datum":0,"type":"quantitative","scale":{"domain":[-0.05,0.15],"nice":false,"zero":false},"axis":{"values":[-0.05,0,0.05,0.1,0.15],"format":".2f","title":"Estimation count","minExtent":24,"maxExtent":24,"titlePadding":6,"labelOverlap":false}}}},
{"transform":[{"filter":"datum.g == 'Control'"},{"joinaggregate":[{"op":"median","field":"v","as":"med"}]},{"density":"v","groupby":["med"],"bandwidth":0.0065,"extent":[-0.014,0.036],"steps":100,"as":["v","d"]},{"joinaggregate":[{"op":"max","field":"d","as":"md"}]},{"calculate":"0 - 0.33 * datum.d / datum.md","as":"xl"},{"calculate":"0 + 0.33 * datum.d / datum.md","as":"xr"}],
"layer":[
{"mark":{"type":"area","orient":"horizontal","fill":"#1B8FE8","stroke":"black","strokeWidth":0.8,"opacity":1},
"encoding":{"y":{"field":"v","type":"quantitative","title":"Estimation count"},"x":{"field":"xl","type":"quantitative","title":null,"scale":{"domain":[-0.65,1.7],"nice":false,"zero":false},"axis":{"values":[0,1],"labelExpr":"datum.value == 0 ? 'Control' : 'Inoculated'","labelAngle":-45,"labelAlign":"right","labelBaseline":"middle","labelFontSize":10,"labelPadding":3,"labelOverlap":false,"title":null}},"x2":{"field":"xr"}}},
{"transform":[{"calculate":"abs(datum.v - datum.med)","as":"dist"},{"joinaggregate":[{"op":"min","field":"dist","as":"mind"}]},{"filter":"datum.dist == datum.mind"}],"mark":{"type":"rule","color":"#1a1a1a","strokeDash":[3,2],"strokeWidth":0.9},"encoding":{"x":{"field":"xl","type":"quantitative","title":null},"x2":{"field":"xr"},"y":{"field":"med","type":"quantitative","title":"Estimation count"}}}
]},
{"transform":[{"filter":"datum.g == 'Inoculated'"},{"joinaggregate":[{"op":"median","field":"v","as":"med"}]},{"density":"v","groupby":["med"],"bandwidth":0.016,"extent":[-0.012,0.128],"steps":100,"as":["v","d"]},{"joinaggregate":[{"op":"max","field":"d","as":"md"}]},{"calculate":"1 - 0.33 * datum.d / datum.md","as":"xl"},{"calculate":"1 + 0.33 * datum.d / datum.md","as":"xr"}],
"layer":[
{"mark":{"type":"area","orient":"horizontal","fill":"#FA2D0A","stroke":"black","strokeWidth":0.8,"opacity":1},
"encoding":{"y":{"field":"v","type":"quantitative","title":"Estimation count"},"x":{"field":"xl","type":"quantitative","title":null},"x2":{"field":"xr"}}},
{"transform":[{"calculate":"abs(datum.v - datum.med)","as":"dist"},{"joinaggregate":[{"op":"min","field":"dist","as":"mind"}]},{"filter":"datum.dist == datum.mind"}],"mark":{"type":"rule","color":"#1a1a1a","strokeDash":[3,2],"strokeWidth":0.9},"encoding":{"x":{"field":"xl","type":"quantitative","title":null},"x2":{"field":"xr"},"y":{"field":"med","type":"quantitative","title":"Estimation count"}}}
]},
{"transform":[{"calculate":"round(datum.v / 0.008)","as":"b"},{"window":[{"op":"row_number","as":"rn"},{"op":"count","as":"cnt"}],"groupby":["g","b"],"frame":[null,null]},{"calculate":"(datum.g == 'Control' ? 0 : 1) + (datum.rn - (datum.cnt + 1) / 2) * 0.48","as":"px"}],
"mark":{"type":"circle","color":"black","opacity":1,"size":45},
"encoding":{"x":{"field":"px","type":"quantitative","title":null},"y":{"field":"v","type":"quantitative","title":"Estimation count"}}},
{"data":{"values":[{}]},"mark":{"type":"rule","color":"black","strokeWidth":1},"encoding":{"x":{"datum":0},"x2":{"datum":1},"y":{"datum":0.139}}},
{"data":{"values":[{}]},"mark":{"type":"rule","color":"black","strokeWidth":1},"encoding":{"x":{"datum":0},"y":{"datum":0.1},"y2":{"datum":0.139}}},
{"data":{"values":[{}]},"mark":{"type":"rule","color":"black","strokeWidth":1},"encoding":{"x":{"datum":1},"y":{"datum":0.133},"y2":{"datum":0.139}}},
{"data":{"values":[{}]},"mark":{"type":"text","text":"*","fontSize":17,"fontWeight":"bold","baseline":"alphabetic","dy":3},"encoding":{"x":{"datum":0.5},"y":{"datum":0.139}}}
]}
]},
{"spacing":95,"bounds":"flush","hconcat":[
{"width":112,"height":1,"data":{"values":[]},"mark":"rect"},
{"width":75,"height":174,"view":{"stroke":"black","strokeWidth":1.2},"title":{"text":["Memory B Cells day 33 PI","(XCELL)"]},"data":{"name":"v4"},
"layer":[
{"data":{"values":[{}]},"mark":{"type":"rule","color":"#b5b5b5","strokeDash":[4,2],"strokeWidth":0.8},"encoding":{"y":{"datum":0,"type":"quantitative","scale":{"domain":[-0.05,0.157],"nice":false,"zero":false},"axis":{"values":[-0.05,0,0.05,0.1,0.15],"format":".2f","title":"Estimation count","minExtent":24,"maxExtent":24,"titlePadding":16,"labelOverlap":false}}}},
{"transform":[{"filter":"datum.g == 'Control'"},{"joinaggregate":[{"op":"median","field":"v","as":"med"}]},{"density":"v","groupby":["med"],"bandwidth":0.012,"extent":[-0.032,0.08],"steps":100,"as":["v","d"]},{"joinaggregate":[{"op":"max","field":"d","as":"md"}]},{"calculate":"0 - 0.34 * datum.d / datum.md","as":"xl"},{"calculate":"0 + 0.34 * datum.d / datum.md","as":"xr"}],
"layer":[
{"mark":{"type":"area","orient":"horizontal","fill":"#1B8FE8","stroke":"black","strokeWidth":0.8,"opacity":1},
"encoding":{"y":{"field":"v","type":"quantitative","title":"Estimation count"},"x":{"field":"xl","type":"quantitative","title":null,"scale":{"domain":[-0.62,1.59],"nice":false,"zero":false},"axis":{"values":[0,1],"labelExpr":"datum.value == 0 ? 'Control' : 'Inoculated'","labelAngle":-45,"labelAlign":"right","labelBaseline":"middle","labelFontSize":10,"labelPadding":3,"labelOverlap":false,"title":null}},"x2":{"field":"xr"}}},
{"transform":[{"calculate":"abs(datum.v - datum.med)","as":"dist"},{"joinaggregate":[{"op":"min","field":"dist","as":"mind"}]},{"filter":"datum.dist == datum.mind"}],"mark":{"type":"rule","color":"#1a1a1a","strokeDash":[3,2],"strokeWidth":0.9},"encoding":{"x":{"field":"xl","type":"quantitative","title":null},"x2":{"field":"xr"},"y":{"field":"med","type":"quantitative","title":"Estimation count"}}}
]},
{"transform":[{"filter":"datum.g == 'Inoculated'"},{"joinaggregate":[{"op":"median","field":"v","as":"med"}]},{"density":"v","groupby":["med"],"bandwidth":0.01,"extent":[0.033,0.117],"steps":100,"as":["v","d"]},{"joinaggregate":[{"op":"max","field":"d","as":"md"}]},{"calculate":"1 - 0.34 * datum.d / datum.md","as":"xl"},{"calculate":"1 + 0.34 * datum.d / datum.md","as":"xr"}],
"layer":[
{"mark":{"type":"area","orient":"horizontal","fill":"#FA2D0A","stroke":"black","strokeWidth":0.8,"opacity":1},
"encoding":{"y":{"field":"v","type":"quantitative","title":"Estimation count"},"x":{"field":"xl","type":"quantitative","title":null},"x2":{"field":"xr"}}},
{"transform":[{"calculate":"abs(datum.v - datum.med)","as":"dist"},{"joinaggregate":[{"op":"min","field":"dist","as":"mind"}]},{"filter":"datum.dist == datum.mind"}],"mark":{"type":"rule","color":"#1a1a1a","strokeDash":[3,2],"strokeWidth":0.9},"encoding":{"x":{"field":"xl","type":"quantitative","title":null},"x2":{"field":"xr"},"y":{"field":"med","type":"quantitative","title":"Estimation count"}}}
]},
{"transform":[{"calculate":"round(datum.v / 0.01)","as":"b"},{"window":[{"op":"row_number","as":"rn"},{"op":"count","as":"cnt"}],"groupby":["g","b"],"frame":[null,null]},{"calculate":"(datum.g == 'Control' ? 0 : 1) + (datum.rn - (datum.cnt + 1) / 2) * 0.5","as":"px"}],
"mark":{"type":"circle","color":"black","opacity":1,"size":45},
"encoding":{"x":{"field":"px","type":"quantitative","title":null},"y":{"field":"v","type":"quantitative","title":"Estimation count"}}},
{"data":{"values":[{}]},"mark":{"type":"rule","color":"black","strokeWidth":1},"encoding":{"x":{"datum":0},"x2":{"datum":1},"y":{"datum":0.128}}},
{"data":{"values":[{}]},"mark":{"type":"rule","color":"black","strokeWidth":1},"encoding":{"x":{"datum":0},"y":{"datum":0.086},"y2":{"datum":0.128}}},
{"data":{"values":[{}]},"mark":{"type":"rule","color":"black","strokeWidth":1},"encoding":{"x":{"datum":1},"y":{"datum":0.12},"y2":{"datum":0.128}}},
{"data":{"values":[{}]},"mark":{"type":"text","text":"*","fontSize":17,"fontWeight":"bold","baseline":"alphabetic","dy":3},"encoding":{"x":{"datum":0.5},"y":{"datum":0.128}}}
]},
{"width":82,"height":174,"view":{"stroke":"black","strokeWidth":1.2},"title":{"text":["Naive B Cells day 33 PI","(XCELL)"]},"data":{"name":"v5"},
"layer":[
{"data":{"values":[{}]},"mark":{"type":"rule","color":"#b5b5b5","strokeDash":[4,2],"strokeWidth":0.8},"encoding":{"y":{"datum":0,"type":"quantitative","scale":{"domain":[-0.02,0.06],"nice":false,"zero":false},"axis":{"values":[-0.02,0,0.02,0.04,0.06],"format":".2f","title":"Estimation count","minExtent":24,"maxExtent":24,"titlePadding":6,"labelOverlap":false}}}},
{"transform":[{"filter":"datum.g == 'Control'"},{"joinaggregate":[{"op":"median","field":"v","as":"med"}]},{"density":"v","groupby":["med"],"bandwidth":0.004,"extent":[-0.011,0.029],"steps":100,"as":["v","d"]},{"joinaggregate":[{"op":"max","field":"d","as":"md"}]},{"calculate":"0 - 0.33 * datum.d / datum.md","as":"xl"},{"calculate":"0 + 0.33 * datum.d / datum.md","as":"xr"}],
"layer":[
{"mark":{"type":"area","orient":"horizontal","fill":"#1B8FE8","stroke":"black","strokeWidth":0.8,"opacity":1},
"encoding":{"y":{"field":"v","type":"quantitative","title":"Estimation count"},"x":{"field":"xl","type":"quantitative","title":null,"scale":{"domain":[-0.66,1.7],"nice":false,"zero":false},"axis":{"values":[0,1],"labelExpr":"datum.value == 0 ? 'Control' : 'Inoculated'","labelAngle":-45,"labelAlign":"right","labelBaseline":"middle","labelFontSize":10,"labelPadding":3,"labelOverlap":false,"title":null}},"x2":{"field":"xr"}}},
{"transform":[{"calculate":"abs(datum.v - datum.med)","as":"dist"},{"joinaggregate":[{"op":"min","field":"dist","as":"mind"}]},{"filter":"datum.dist == datum.mind"}],"mark":{"type":"rule","color":"#1a1a1a","strokeDash":[3,2],"strokeWidth":0.9},"encoding":{"x":{"field":"xl","type":"quantitative","title":null},"x2":{"field":"xr"},"y":{"field":"med","type":"quantitative","title":"Estimation count"}}}
]},
{"transform":[{"filter":"datum.g == 'Inoculated'"},{"joinaggregate":[{"op":"median","field":"v","as":"med"}]},{"density":"v","groupby":["med"],"bandwidth":0.0045,"extent":[0.008,0.049],"steps":100,"as":["v","d"]},{"joinaggregate":[{"op":"max","field":"d","as":"md"}]},{"calculate":"1 - 0.33 * datum.d / datum.md","as":"xl"},{"calculate":"1 + 0.33 * datum.d / datum.md","as":"xr"}],
"layer":[
{"mark":{"type":"area","orient":"horizontal","fill":"#FA2D0A","stroke":"black","strokeWidth":0.8,"opacity":1},
"encoding":{"y":{"field":"v","type":"quantitative","title":"Estimation count"},"x":{"field":"xl","type":"quantitative","title":null},"x2":{"field":"xr"}}},
{"transform":[{"calculate":"abs(datum.v - datum.med)","as":"dist"},{"joinaggregate":[{"op":"min","field":"dist","as":"mind"}]},{"filter":"datum.dist == datum.mind"}],"mark":{"type":"rule","color":"#1a1a1a","strokeDash":[3,2],"strokeWidth":0.9},"encoding":{"x":{"field":"xl","type":"quantitative","title":null},"x2":{"field":"xr"},"y":{"field":"med","type":"quantitative","title":"Estimation count"}}}
]},
{"transform":[{"calculate":"round(datum.v / 0.003)","as":"b"},{"window":[{"op":"row_number","as":"rn"},{"op":"count","as":"cnt"}],"groupby":["g","b"],"frame":[null,null]},{"calculate":"(datum.g == 'Control' ? 0 : 1) + (datum.rn - (datum.cnt + 1) / 2) * 0.48","as":"px"}],
"mark":{"type":"circle","color":"black","opacity":1,"size":45},
"encoding":{"x":{"field":"px","type":"quantitative","title":null},"y":{"field":"v","type":"quantitative","title":"Estimation count"}}},
{"data":{"values":[{}]},"mark":{"type":"rule","color":"black","strokeWidth":1},"encoding":{"x":{"datum":0},"x2":{"datum":1},"y":{"datum":0.0523}}},
{"data":{"values":[{}]},"mark":{"type":"rule","color":"black","strokeWidth":1},"encoding":{"x":{"datum":0},"y":{"datum":0.03},"y2":{"datum":0.0523}}},
{"data":{"values":[{}]},"mark":{"type":"rule","color":"black","strokeWidth":1},"encoding":{"x":{"datum":1},"y":{"datum":0.051},"y2":{"datum":0.0523}}},
{"data":{"values":[{}]},"mark":{"type":"text","text":"*","fontSize":17,"fontWeight":"bold","baseline":"alphabetic","dy":3},"encoding":{"x":{"datum":0.5},"y":{"datum":0.0523}}}
]},
{"width":83,"height":174,"view":{"stroke":"black","strokeWidth":1.2},"title":{"text":["Regulatory T Cells day 33 PI","(QUANTISEQ)"]},"data":{"name":"v6"},
"layer":[
{"data":{"values":[{}]},"mark":{"type":"rule","opacity":0},"encoding":{"y":{"datum":0,"type":"quantitative","scale":{"domain":[0,0.025],"nice":false,"zero":false},"axis":{"values":[0,0.005,0.01,0.015,0.02,0.025],"labelExpr":"format(datum.value, '.3f')","title":"Estimation count","minExtent":26,"maxExtent":26,"titlePadding":4,"labelOverlap":false,"labelSeparation":0,"labelBound":false,"labelFontSize":7.5}}}},
{"transform":[{"filter":"datum.g == 'Control'"},{"joinaggregate":[{"op":"median","field":"v","as":"med"}]},{"density":"v","groupby":["med"],"bandwidth":0.0011,"extent":[0.0059,0.0155],"steps":100,"as":["v","d"]},{"joinaggregate":[{"op":"max","field":"d","as":"md"}]},{"calculate":"0 - 0.33 * datum.d / datum.md","as":"xl"},{"calculate":"0 + 0.33 * datum.d / datum.md","as":"xr"}],
"layer":[
{"mark":{"type":"area","orient":"horizontal","fill":"#1B8FE8","stroke":"black","strokeWidth":0.8,"opacity":1},
"encoding":{"y":{"field":"v","type":"quantitative","title":"Estimation count"},"x":{"field":"xl","type":"quantitative","title":null,"scale":{"domain":[-0.65,1.7],"nice":false,"zero":false},"axis":{"values":[0,1],"labelExpr":"datum.value == 0 ? 'Control' : 'Inoculated'","labelAngle":-45,"labelAlign":"right","labelBaseline":"middle","labelFontSize":10,"labelPadding":3,"labelOverlap":false,"title":null}},"x2":{"field":"xr"}}},
{"transform":[{"calculate":"abs(datum.v - datum.med)","as":"dist"},{"joinaggregate":[{"op":"min","field":"dist","as":"mind"}]},{"filter":"datum.dist == datum.mind"}],"mark":{"type":"rule","color":"#1a1a1a","strokeDash":[3,2],"strokeWidth":0.9},"encoding":{"x":{"field":"xl","type":"quantitative","title":null},"x2":{"field":"xr"},"y":{"field":"med","type":"quantitative","title":"Estimation count"}}}
]},
{"transform":[{"filter":"datum.g == 'Inoculated'"},{"joinaggregate":[{"op":"median","field":"v","as":"med"}]},{"density":"v","groupby":["med"],"bandwidth":0.0012,"extent":[0.0094,0.0203],"steps":100,"as":["v","d"]},{"joinaggregate":[{"op":"max","field":"d","as":"md"}]},{"calculate":"1 - 0.33 * datum.d / datum.md","as":"xl"},{"calculate":"1 + 0.33 * datum.d / datum.md","as":"xr"}],
"layer":[
{"mark":{"type":"area","orient":"horizontal","fill":"#FA2D0A","stroke":"black","strokeWidth":0.8,"opacity":1},
"encoding":{"y":{"field":"v","type":"quantitative","title":"Estimation count"},"x":{"field":"xl","type":"quantitative","title":null},"x2":{"field":"xr"}}},
{"transform":[{"calculate":"abs(datum.v - datum.med)","as":"dist"},{"joinaggregate":[{"op":"min","field":"dist","as":"mind"}]},{"filter":"datum.dist == datum.mind"}],"mark":{"type":"rule","color":"#1a1a1a","strokeDash":[3,2],"strokeWidth":0.9},"encoding":{"x":{"field":"xl","type":"quantitative","title":null},"x2":{"field":"xr"},"y":{"field":"med","type":"quantitative","title":"Estimation count"}}}
]},
{"transform":[{"calculate":"round(datum.v / 0.0025)","as":"b"},{"window":[{"op":"row_number","as":"rn"},{"op":"count","as":"cnt"}],"groupby":["g","b"],"frame":[null,null]},{"calculate":"(datum.g == 'Control' ? 0 : 1) + (datum.rn - (datum.cnt + 1) / 2) * 0.48","as":"px"}],
"mark":{"type":"circle","color":"black","opacity":1,"size":45},
"encoding":{"x":{"field":"px","type":"quantitative","title":null},"y":{"field":"v","type":"quantitative","title":"Estimation count"}}},
{"data":{"values":[{}]},"mark":{"type":"rule","color":"black","strokeWidth":1},"encoding":{"x":{"datum":0},"x2":{"datum":1},"y":{"datum":0.0213}}},
{"data":{"values":[{}]},"mark":{"type":"rule","color":"black","strokeWidth":1},"encoding":{"x":{"datum":0},"y":{"datum":0.0158},"y2":{"datum":0.0213}}},
{"data":{"values":[{}]},"mark":{"type":"rule","color":"black","strokeWidth":1},"encoding":{"x":{"datum":1},"y":{"datum":0.0206},"y2":{"datum":0.0213}}},
{"data":{"values":[{}]},"mark":{"type":"text","text":"*","fontSize":17,"fontWeight":"bold","baseline":"alphabetic","dy":3},"encoding":{"x":{"datum":0.5},"y":{"datum":0.0213}}}
]}
]}
]}
]
}
